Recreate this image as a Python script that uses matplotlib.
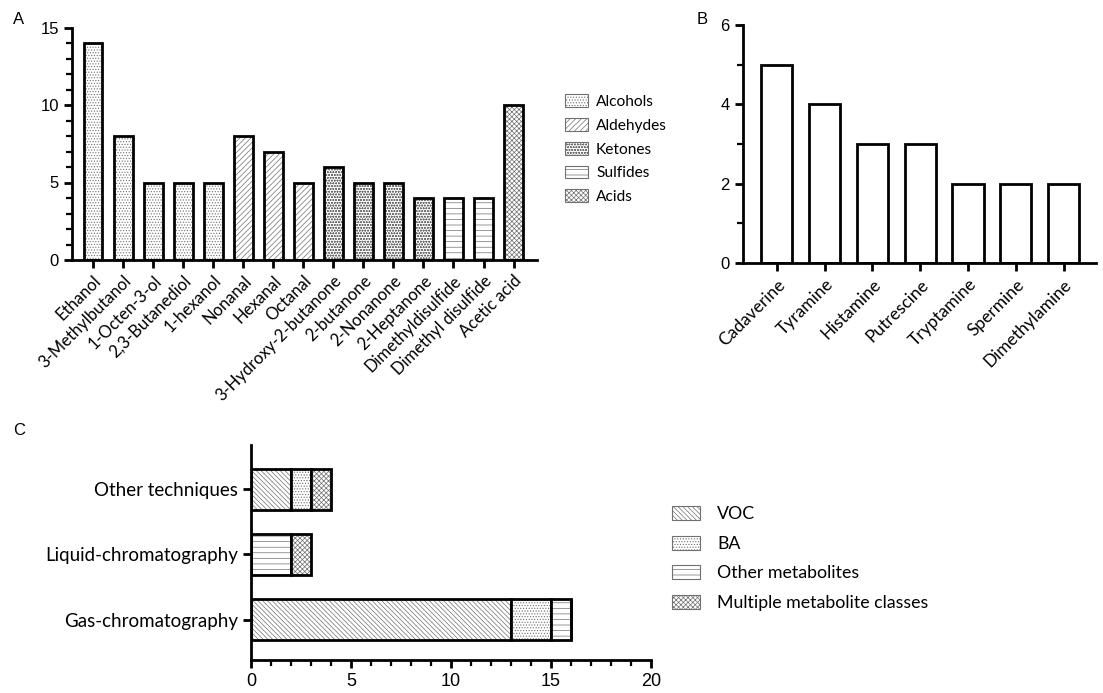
import matplotlib
matplotlib.use("Agg")
import matplotlib.pyplot as plt
from matplotlib.patches import Patch
import numpy as np

plt.rcParams['hatch.linewidth'] = 0.5

# ---------------- data ----------------
voc_names = ["Ethanol", "3-Methylbutanol", "1-Octen-3-ol", "2,3-Butanediol", "1-hexanol",
             "Nonanal", "Hexanal", "Octanal", "3-Hydroxy-2-butanone", "2-butanone",
             "2-Nonanone", "2-Heptanone", "Dimethyldisulfide", "Dimethyl disulfide", "Acetic acid"]
voc_counts = [14, 8, 5, 5, 5, 8, 7, 5, 6, 5, 5, 4, 4, 4, 10]
voc_classes = ["Alcohols"] * 5 + ["Aldehydes"] * 3 + ["Ketones"] * 4 + ["Sulfides"] * 2 + ["Acids"]
class_order = ["Alcohols", "Aldehydes", "Ketones", "Sulfides", "Acids"]

ba_names = ["Cadaverine", "Tyramine", "Histamine", "Putrescine", "Tryptamine", "Spermine", "Dimethylamine"]
ba_counts = [5, 4, 3, 3, 2, 2, 2]

techniques = ["Gas-chromatography", "Liquid-chromatography", "Other techniques"]
metab_groups = ["VOC", "BA", "Other metabolites", "Multiple metabolite classes"]
voc_tech = [13, 0, 2]
ba_tech = [2, 0, 1]
other_tech = [1, 2, 0]
multi_tech = [0, 1, 1]

# ---------------- styles ----------------
class_hatch = {"Alcohols": "......", "Aldehydes": "//////", "Ketones": "oooooo",
               "Sulfides": "---", "Acids": "xxxxxxx"}
group_hatch = {"VOC": "\\\\\\\\\\\\\\", "BA": "......", "Other metabolites": "---",
               "Multiple metabolite classes": "xxxxxxx"}
HATCH_C = "#707070"

SANS = ["Lato", "DejaVu Sans"]
ARIAL = ["Liberation Sans", "DejaVu Sans"]

W, H = 1103, 693
fig = plt.figure(figsize=(W / 100, H / 100), dpi=100)


def rect(l, t, r, b):
    return [l / W, 1 - b / H, (r - l) / W, (b - t) / H]


def style_axes(ax):
    for s in ["top", "right"]:
        ax.spines[s].set_visible(False)
    for s in ["left", "bottom"]:
        ax.spines[s].set_linewidth(2.0)
    ax.tick_params(which="major", width=2.0, length=6, direction="out")
    ax.tick_params(which="minor", width=1.6, length=4, direction="out")


def hbar(ax, x, h, hatch, width, **kw):
    ax.bar(x, h, width=width, color="white", edgecolor=HATCH_C, hatch=hatch, linewidth=0, **kw)
    ax.bar(x, h, width=width, fill=False, edgecolor="black", linewidth=2.0, **kw)


# ---------------- panel A ----------------
axA = fig.add_axes(rect(72, 27.5, 537, 260))
style_axes(axA)
xa = np.arange(len(voc_names))
for i in range(len(voc_names)):
    hbar(axA, xa[i], voc_counts[i], class_hatch[voc_classes[i]], 0.63)
axA.set_xlim(-0.7, 14.78)
axA.set_ylim(0, 15)
axA.set_yticks([0, 5, 10, 15])
axA.set_yticks(np.arange(0, 16, 1), minor=True)
axA.set_xticks(xa)
axA.set_xticklabels(voc_names, rotation=45, ha="right", rotation_mode="anchor",
                    family=SANS, fontsize=12)
for lab in axA.get_yticklabels():
    lab.set_family(ARIAL)
    lab.set_fontsize(12)
axA.tick_params(axis="x", pad=3)

legA = [Patch(facecolor="white", edgecolor=HATCH_C, hatch=class_hatch[c], linewidth=0.8, label=c)
        for c in class_order]
fig.legend(handles=legA, loc="upper left", bbox_to_anchor=(565 / W, 1 - 94 / H), frameon=False,
           prop={"family": SANS, "size": 11.2}, handlelength=1.5, handleheight=0.9,
           handletextpad=0.5, labelspacing=0.58, borderpad=0, borderaxespad=0)

# ---------------- panel B ----------------
axB = fig.add_axes(rect(743, 25, 1096, 263))
style_axes(axB)
xb = np.arange(len(ba_names))
axB.bar(xb, ba_counts, width=0.65, color="white", edgecolor="black", linewidth=2.0)
axB.set_xlim(-0.71, 6.68)
axB.set_ylim(0, 6)
axB.set_yticks([0, 2, 4, 6])
axB.set_yticks([1, 3, 5], minor=True)
axB.set_xticks(xb)
axB.set_xticklabels(ba_names, rotation=45, ha="right", rotation_mode="anchor",
                    family=SANS, fontsize=12.5)
for lab in axB.get_yticklabels():
    lab.set_family(ARIAL)
    lab.set_fontsize(12)

# ---------------- panel C ----------------
axC = fig.add_axes(rect(251, 445, 651, 660))
style_axes(axC)
yc = np.arange(len(techniques))
left = np.zeros(len(techniques))
for g, vals in zip(metab_groups, [voc_tech, ba_tech, other_tech, multi_tech]):
    vals = np.array(vals, dtype=float)
    axC.barh(yc, vals, left=left, height=0.63, color="white", edgecolor=HATCH_C,
             hatch=group_hatch[g], linewidth=0)
    axC.barh(yc, vals, left=left, height=0.63, fill=False, edgecolor="black", linewidth=2.0)
    left += vals
axC.set_xlim(0, 20)
axC.set_ylim(-0.62, 2.68)
axC.set_xticks([0, 5, 10, 15, 20])
axC.set_xticks(np.arange(0, 21, 1), minor=True)
axC.set_yticks(yc)
axC.set_yticklabels(techniques, family=SANS, fontsize=13.5)
for lab in axC.get_xticklabels():
    lab.set_family(ARIAL)
    lab.set_fontsize(13)

legC = [Patch(facecolor="white", edgecolor=HATCH_C, hatch=group_hatch[g], linewidth=0.8, label=g)
        for g in metab_groups]
fig.legend(handles=legC, loc="upper left", bbox_to_anchor=(672 / W, 1 - 506 / H), frameon=False,
           prop={"family": SANS, "size": 12.8}, handlelength=1.55, handleheight=0.85,
           handletextpad=1.0, labelspacing=0.75, borderpad=0, borderaxespad=0)

# ---------------- panel letters ----------------
for txt, px, py in [("A", 13, 20), ("B", 697, 20), ("C", 13, 430)]:
    fig.text(px / W, 1 - py / H, txt, family=ARIAL, fontsize=12, va="center", ha="left")

fig.savefig("out.png", dpi=100, facecolor="white")
